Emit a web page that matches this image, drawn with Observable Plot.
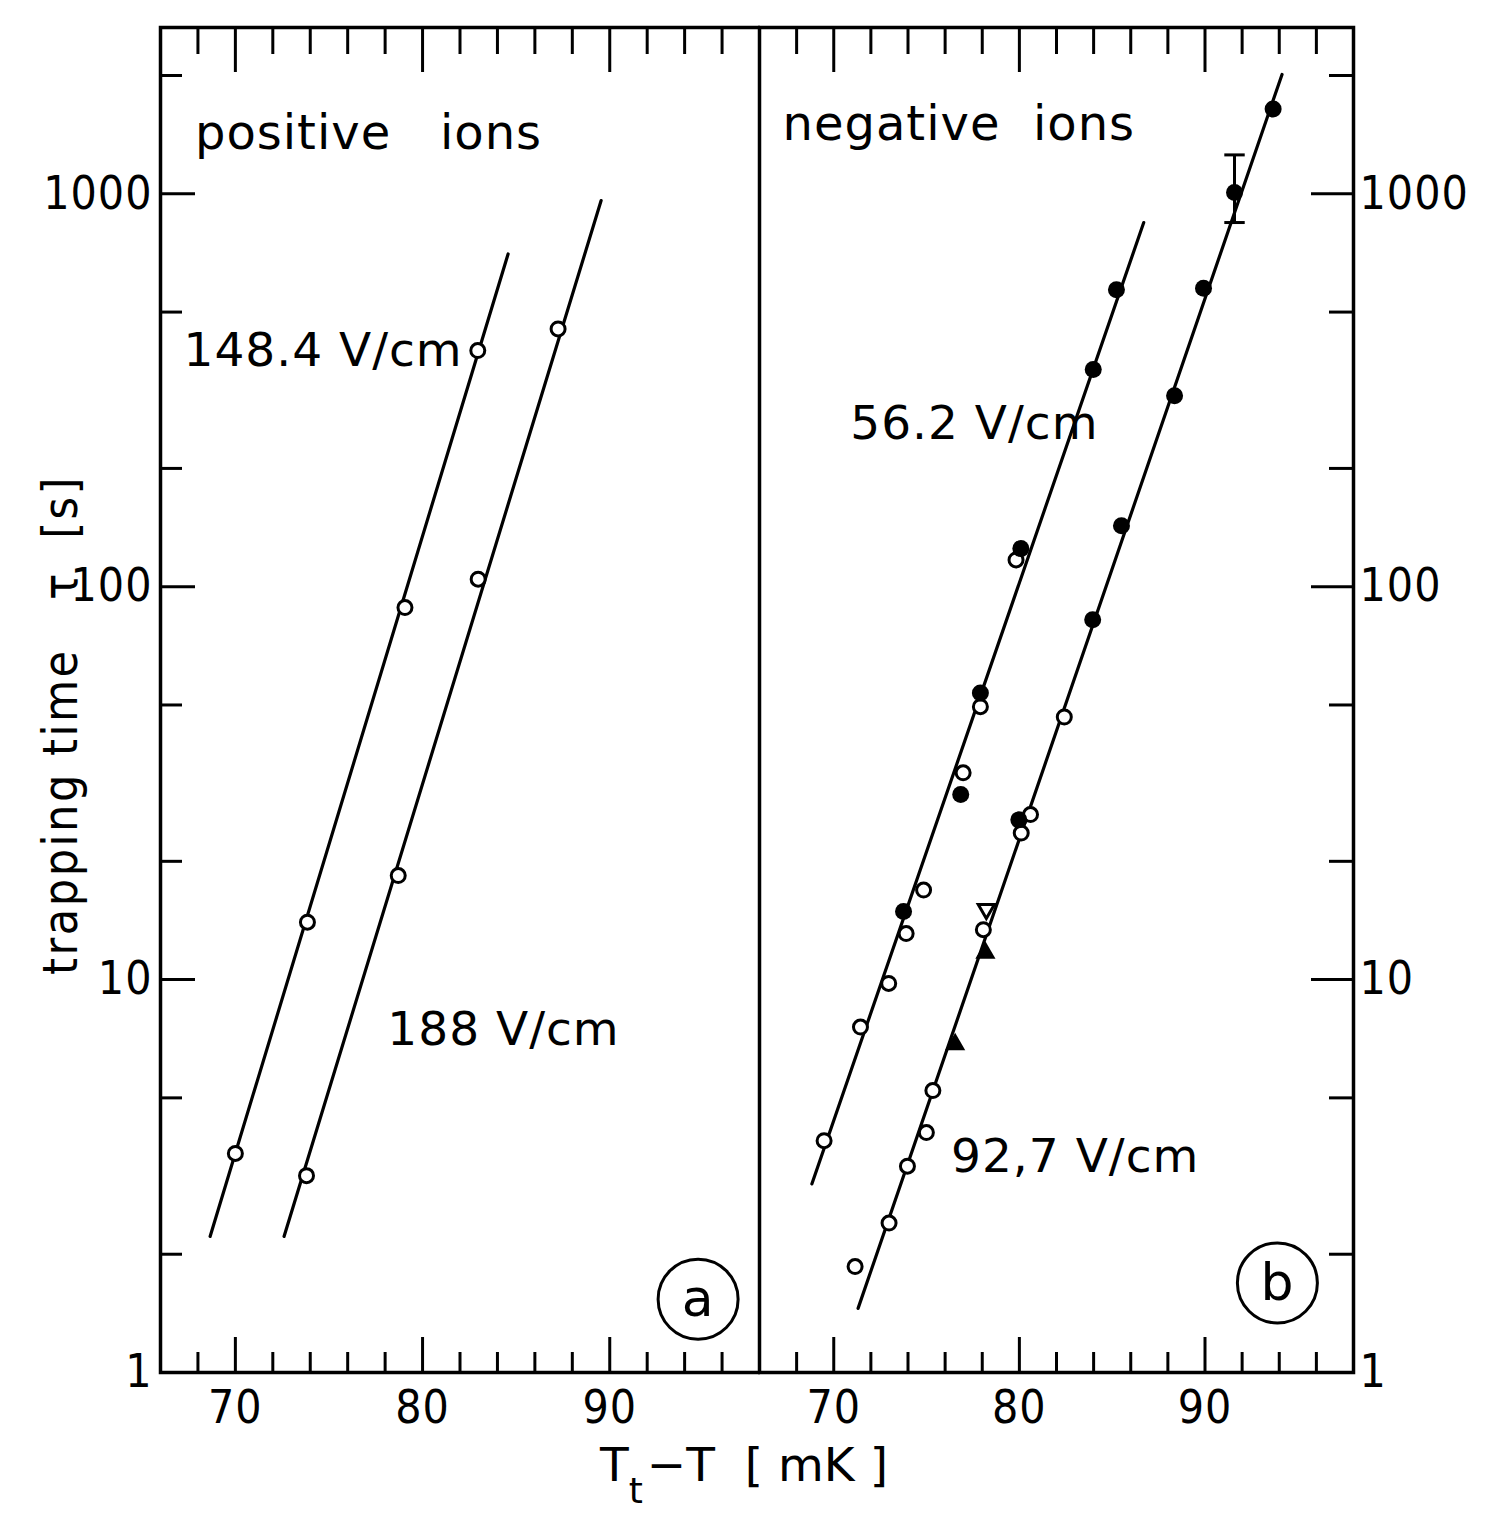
<!DOCTYPE html>
<html>
<head>
<meta charset="utf-8">
<script src="https://cdn.jsdelivr.net/npm/d3@7"></script>
<script src="https://cdn.jsdelivr.net/npm/@observablehq/plot@0.6"></script>
<style>
  body { margin: 0; background: #fff; }
  #fig { position: relative; width: 1494px; height: 1533px; background: #fff; overflow: hidden; }
  #left, #right { position: absolute; top: 0; }
  #left { left: 0; }
  #right { left: 758px; }
  #xlabel { position: absolute; left: 600px; top: 1441px; font-family: "DejaVu Sans", sans-serif; font-size: 47px; line-height: 47px; white-space: pre; color: #000; }
  #xlabel .sub { font-size: 36px; position: relative; top: 22px; margin-right: 4px; }
  #ylabel { position: absolute; left: 60px; top: 725px; transform: translate(-50%, -50%) rotate(-90deg); font-family: "DejaVu Sans Condensed", "DejaVu Sans", sans-serif; font-size: 48px; line-height: 48px; letter-spacing: 2.5px; white-space: pre; color: #000; }
</style>
</head>
<body>
<div id="fig">
  <div id="left"></div>
  <div id="right"></div>
  <div id="ylabel">trapping time   τ  [s]</div>
  <div id="xlabel">T<span class="sub">t</span>−T  [ mK ]</div>
</div>
<script>
// axis ticks
const xMinor = [68, 72, 74, 76, 78, 82, 84, 86, 88, 92, 94, 96];
const xMajor = [70, 80, 90];
const yMinor = [2, 5, 20, 50, 200, 500, 2000];
const yMajor = [1, 10, 100, 1000];

// (a) positive ions, open circles  [T_t - T (mK), tau (s)]
const pos148 = [[70.0, 3.61], [73.85, 14.0], [79.06, 88.5], [82.95, 399]];
const pos188 = [[73.8, 3.17], [78.7, 18.4], [82.97, 104.5], [87.24, 453]];
// drawn straight lines, end points
const fit148 = [[68.65, 2.22], [84.57, 703]];
const fit188 = [[72.6, 2.22], [89.54, 961]];

// (b) negative ions
const neg56Filled = [[85.23, 570], [83.98, 357], [80.08, 125], [77.9, 53.6], [76.84, 29.6], [73.76, 14.9]];
const neg56Open = [[79.82, 117], [77.9, 49.5], [76.97, 33.6], [74.84, 16.9], [73.9, 13.1], [72.96, 9.78], [71.44, 7.57], [69.48, 3.89]];
const neg93Filled = [[93.67, 1644], [91.59, 1008], [89.92, 575], [88.36, 306], [85.5, 143], [83.95, 82.4], [79.97, 25.5]];
const neg93Open = [[82.42, 46.6], [80.6, 26.3], [80.1, 23.6], [78.06, 13.4], [75.34, 5.22], [74.99, 4.08], [73.97, 3.35], [72.98, 2.40], [71.15, 1.86]];
const neg93Tri = [[78.17, 11.7], [76.54, 6.84]];
const neg93TriOpen = [[78.22, 15.1]];
const fit56 = [[68.82, 3.02], [86.7, 845]];
const fit93 = [[71.31, 1.456], [94.15, 2013]];
// error bar on the 92.7 V/cm point
const errX = [91.59], errLo = [845], errHi = [1256];

// labels
const labelsA = [
  {x: 67.84, y: 1301, text: "positive   ions", size: 48},
  {x: 67.23, y: 365, text: "148.4 V/cm", size: 47},
  {x: 78.12, y: 6.83, text: "188 V/cm", size: 47}
];
const labelsB = [
  {x: 67.24, y: 1374, text: "negative  ions", size: 48},
  {x: 70.89, y: 237.6, text: "56.2 V/cm", size: 47},
  {x: 76.32, y: 3.24, text: "92,7 V/cm", size: 47}
];
const tagA = [{x: 94.72, y: 1.537, text: "a"}];
const tagB = [{x: 93.9, y: 1.69, text: "b"}];

const H = 1440, TOP = 27, BOTTOM = 1372, FH = BOTTOM - TOP;
const numFont = {fontFamily: "'Liberation Sans Narrow', 'DejaVu Sans Condensed', sans-serif", fontSize: 46};
const txtFont = {fontFamily: "'DejaVu Sans', sans-serif"};
const P = d => d[0], V = d => d[1];
const openDot = {r: 7, fill: "white", stroke: "black", strokeWidth: 3};
const fullDot = {r: 8.5, fill: "black"};
const fitLine = {stroke: "black", strokeWidth: 3.2};

function frameMarks(fw, side) {
  const m = [
    Plot.frame({stroke: "black", strokeWidth: 3.5}),
    Plot.ruleX(xMinor, {x: d => d, insetTop: FH - 20, strokeWidth: 3}),
    Plot.ruleX(xMajor, {x: d => d, insetTop: FH - 35, strokeWidth: 3}),
    Plot.ruleX(xMinor, {x: d => d, insetBottom: FH - 27, strokeWidth: 3}),
    Plot.ruleX(xMajor, {x: d => d, insetBottom: FH - 45, strokeWidth: 3}),
    Plot.text(xMajor, {x: d => d, frameAnchor: "bottom", dy: 50, text: d => String(d), ...numFont})
  ];
  const inner = yMajor.filter(d => d > 1);
  if (side === "left") {
    m.push(
      Plot.ruleY(yMinor, {y: d => d, insetRight: fw - 22, strokeWidth: 3}),
      Plot.ruleY(inner, {y: d => d, insetRight: fw - 35, strokeWidth: 3}),
      Plot.text(yMajor, {y: d => d, frameAnchor: "left", dx: -8, textAnchor: "end", text: d => String(d), ...numFont})
    );
  } else {
    m.push(
      Plot.ruleY(yMinor, {y: d => d, insetLeft: fw - 24, strokeWidth: 3}),
      Plot.ruleY(inner, {y: d => d, insetLeft: fw - 42, strokeWidth: 3}),
      Plot.text(yMajor, {y: d => d, frameAnchor: "right", dx: 6, textAnchor: "start", text: d => String(d), ...numFont})
    );
  }
  return m;
}

function labelMarks(labels, tag) {
  return [
    Plot.text(labels, {x: "x", y: "y", text: "text", fontSize: d => d.size, textAnchor: "start", lineAnchor: "bottom", ...txtFont}),
    Plot.dot(tag, {x: "x", y: "y", r: 40, fill: "none", stroke: "black", strokeWidth: 3}),
    Plot.text(tag, {x: "x", y: "y", text: "text", fontSize: 52, ...txtFont})
  ];
}

const scales = {
  x: {type: "linear", domain: [66, 98], axis: null},
  y: {type: "log", domain: [1, 2650], axis: null}
};

const wL = 760, mlL = 160, mrL = 1;
const left = Plot.plot({
  width: wL, height: H,
  marginLeft: mlL, marginRight: mrL, marginTop: TOP, marginBottom: H - BOTTOM,
  ...scales,
  marks: [
    ...frameMarks(wL - mlL - mrL, "left"),
    Plot.line(fit148, {x: P, y: V, ...fitLine}),
    Plot.line(fit188, {x: P, y: V, ...fitLine}),
    Plot.dot(pos148, {x: P, y: V, ...openDot}),
    Plot.dot(pos188, {x: P, y: V, ...openDot}),
    ...labelMarks(labelsA, tagA)
  ]
});
left.style.letterSpacing = "1px";
d3.select("#left").append(() => left);

const wR = 736, mlR = 1, mrR = 141;
const right = Plot.plot({
  width: wR, height: H,
  marginLeft: mlR, marginRight: mrR, marginTop: TOP, marginBottom: H - BOTTOM,
  ...scales,
  marks: [
    ...frameMarks(wR - mlR - mrR, "right"),
    Plot.line(fit56, {x: P, y: V, ...fitLine}),
    Plot.line(fit93, {x: P, y: V, ...fitLine}),
    Plot.ruleX(errX, {x: d => d, y1: (d, i) => errLo[i], y2: (d, i) => errHi[i], strokeWidth: 3}),
    Plot.link(errX.flatMap((d, i) => [[d, errLo[i]], [d, errHi[i]]]), {x1: d => d[0] - 0.55, x2: d => d[0] + 0.55, y1: V, y2: V, strokeWidth: 3}),
    Plot.dot(neg56Open, {x: P, y: V, ...openDot}),
    Plot.dot(neg93Open, {x: P, y: V, ...openDot}),
    Plot.dot(neg93TriOpen, {x: P, y: V, symbol: "triangle", rotate: 180, ...openDot, r: 6}),
    Plot.dot(neg56Filled, {x: P, y: V, ...fullDot}),
    Plot.dot(neg93Filled, {x: P, y: V, ...fullDot}),
    Plot.dot(neg93Tri, {x: P, y: V, r: 7.5, symbol: "triangle", fill: "black"}),
    ...labelMarks(labelsB, tagB)
  ]
});
right.style.letterSpacing = "1px";
d3.select("#right").append(() => right);
</script>
</body>
</html>
